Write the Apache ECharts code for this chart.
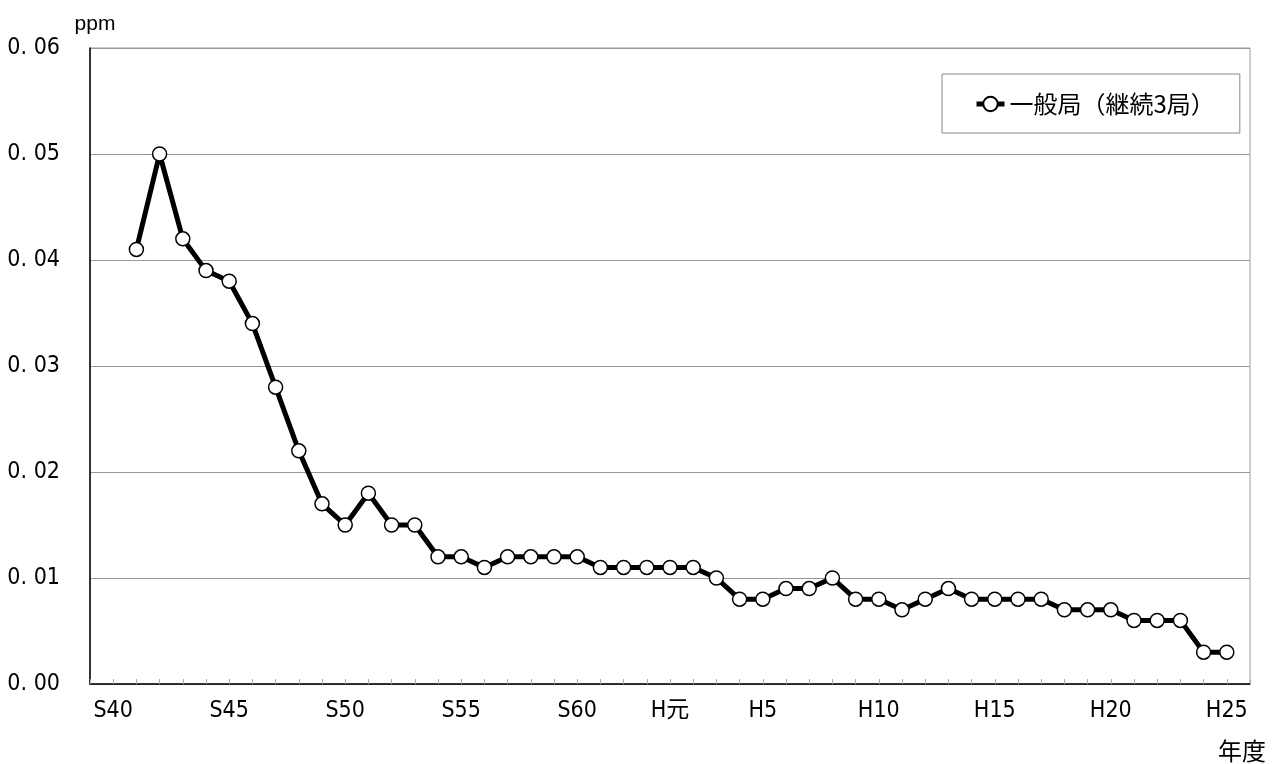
<!DOCTYPE html>
<html>
<head>
<meta charset="utf-8">
<script src="https://cdn.jsdelivr.net/npm/echarts@6/dist/echarts.min.js"></script>
<style>
html,body{margin:0;padding:0;background:#fff;}
#chart{width:1272px;height:764px;}
</style>
</head>
<body>
<div id="chart"></div>
<script>
// Categories (fiscal years), with one empty slot at each end of the axis
const years = ['S39','S40','S41','S42','S43','S44','S45','S46','S47','S48','S49',
  'S50','S51','S52','S53','S54','S55','S56','S57','S58','S59','S60','S61','S62','S63',
  'H元','H2','H3','H4','H5','H6','H7','H8','H9','H10','H11','H12','H13','H14','H15',
  'H16','H17','H18','H19','H20','H21','H22','H23','H24','H25','H26'];
// 一般局(継続3局) annual mean, ppm
const generalStations = [null,null,0.041,0.050,0.042,0.039,0.038,0.034,0.028,0.022,0.017,
  0.015,0.018,0.015,0.015,0.012,0.012,0.011,0.012,0.012,0.012,0.012,0.011,0.011,0.011,
  0.011,0.011,0.010,0.008,0.008,0.009,0.009,0.010,0.008,0.008,0.007,0.008,0.009,0.008,0.008,
  0.008,0.008,0.007,0.007,0.007,0.006,0.006,0.006,0.003,0.003,null];
const tickLabels = ['S40','S45','S50','S55','S60','H元','H5','H10','H15','H20','H25'];
const seriesName = '一般局（継続3局）';

const narrow = "'Liberation Sans Narrow','DejaVu Sans Condensed','Noto Sans CJK JP',sans-serif";
const chart = echarts.init(document.getElementById('chart'));
chart.setOption({
  animation: false,
  backgroundColor: '#fff',
  grid: {left: 90, right: 22, top: 48, bottom: 80, show: true, borderColor: '#999', borderWidth: 1},
  legend: {
    left: 942, top: 74,
    padding: [18, 25, 17, 32],
    borderColor: '#888', borderWidth: 1, backgroundColor: '#fff',
    itemWidth: 28, itemHeight: 18,
    lineStyle: {width: 5},
    textStyle: {fontFamily: "'Noto Sans CJK JP'", fontSize: 24, color: '#000'},
    data: [seriesName]
  },
  xAxis: {
    type: 'category',
    data: years,
    boundaryGap: false,
    axisLine: {lineStyle: {color: '#000', width: 1.5}},
    axisTick: {inside: true, length: 5, interval: 0, lineStyle: {color: '#aaa'}},
    axisLabel: {
      interval: (i, v) => tickLabels.includes(v),
      margin: 16,
      fontFamily: narrow, fontSize: 23, color: '#000'
    },
    splitLine: {show: false}
  },
  yAxis: {
    type: 'value',
    min: 0, max: 0.06, interval: 0.01,
    name: 'ppm',
    nameGap: 13,
    nameTextStyle: {fontFamily: "'Liberation Sans',sans-serif", fontSize: 21, color: '#000', padding: [0, 0, 0, 10]},
    axisLine: {show: true, lineStyle: {color: '#000', width: 1.5}},
    axisTick: {show: false},
    axisLabel: {margin: 30, padding: [5, 0, 0, 0], fontFamily: narrow, fontSize: 23, color: '#000', formatter: v => v.toFixed(2).replace('.', '. ')},
    splitLine: {lineStyle: {color: '#999', width: 1}}
  },
  graphic: [{
    type: 'text', left: 1218, top: 739,
    style: {text: '年度', font: "24px 'Noto Sans CJK JP'", fill: '#000'}
  }],
  series: [{
    name: seriesName,
    type: 'line',
    data: generalStations,
    symbol: 'circle',
    symbolSize: 14,
    showAllSymbol: true,
    lineStyle: {color: '#000', width: 5},
    itemStyle: {color: '#fff', borderColor: '#000', borderWidth: 1.5}
  }]
});
</script>
</body>
</html>
